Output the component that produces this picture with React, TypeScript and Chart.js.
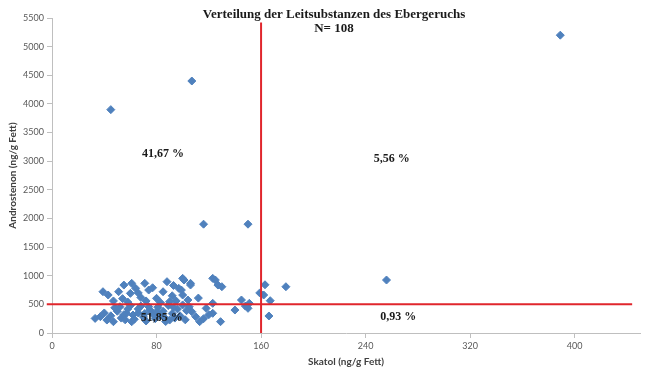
import React, { useEffect, useRef } from "react";
import { Chart, registerables } from "chart.js";

Chart.register(...registerables);

// Skatol (ng/g Fett) per sample
const skatolValues = [
  45, 107, 116, 150, 389, 256, 163, 179, 162, 167, 166,
  39, 43, 51, 55, 61, 60, 54, 71, 74, 68, 80, 77, 88, 85, 92, 100, 106, 97, 100, 104,
  101, 106, 99, 112, 123, 127, 125, 130, 123, 145, 151, 159, 83, 64, 47, 58, 72, 90, 95, 93, 66,
  37, 33, 42, 47, 52, 57, 62, 61, 90, 113, 105, 107, 110, 123, 120, 129, 140, 150, 148,
  45, 50, 53, 58, 63, 66, 68, 70, 72, 75, 77, 79, 81, 83, 85, 87, 89, 92, 94, 96, 98, 100,
  102, 66, 74, 60, 55, 48, 40, 86, 93, 103, 116, 118, 56, 80, 71,
];

// Androstenon (ng/g Fett) per sample
const androstenonValues = [
  3900, 4400, 1900, 1900, 5200, 925, 842, 808, 663, 564, 297,
  721, 663, 721, 837, 867, 692, 600, 867, 750, 620, 605, 790, 896, 720, 650, 954, 867, 780, 663, 576,
  925, 838, 750, 610, 954, 837, 925, 808, 518, 576, 518, 700, 530, 780, 560, 540, 560, 547, 560, 830, 700,
  285, 255, 226, 197, 459, 343, 314, 197, 226, 198, 459, 372, 285, 344, 320, 198, 401, 431, 470,
  300, 380, 260, 420, 240, 350, 470, 280, 210, 400, 330, 250, 450, 300, 380, 200, 480, 340, 260, 420, 300, 490,
  230, 420, 460, 480, 320, 440, 350, 270, 450, 390, 250, 430, 230, 370, 340,
];

const skatolThreshold = 160;
const androstenonThreshold = 500;

const xTickValues = [0, 80, 160, 240, 320, 400];
const yTickValues = [0, 500, 1000, 1500, 2000, 2500, 3000, 3500, 4000, 4500, 5000, 5500];

const chartTitle = "Verteilung der Leitsubstanzen des Ebergeruchs";
const chartSubtitle = "N= 108";
const quadrantLabels = ["41,67 %", "5,56 %", "51,85 %", "0,93 %"];
const quadrantSkatol = [85, 260, 84, 265];
const quadrantAndrostenon = [3124, 3037, 262, 280];

const xAxisTitle = "Skatol (ng/g Fett)";
const yAxisTitle = "Androstenon (ng/g Fett)";

const textPlugin = {
  id: "textPlugin",
  afterDatasetsDraw(chart: any) {
    const { ctx, scales } = chart;
    ctx.save();
    ctx.fillStyle = "#1a1a1a";
    ctx.textAlign = "center";
    ctx.textBaseline = "middle";
    ctx.font = "bold 13px 'Liberation Serif', 'Times New Roman', serif";
    ctx.fillText(chartTitle, 334, 15);
    ctx.fillText(chartSubtitle, 334, 29);
    ctx.font = "bold 12px 'Liberation Serif', 'Times New Roman', serif";
    quadrantLabels.forEach((t, i) => {
      const px = scales.x.getPixelForValue(quadrantSkatol[i]);
      const py = scales.y.getPixelForValue(quadrantAndrostenon[i]);
      ctx.fillText(t, px, py);
    });
    ctx.restore();
  },
};

export default function App() {
  const canvasRef = useRef<HTMLCanvasElement | null>(null);

  useEffect(() => {
    if (!canvasRef.current) return;
    const points = skatolValues.map((x, i) => ({ x, y: androstenonValues[i] }));
    const tickFont = { family: "Lato, 'Open Sans', sans-serif", size: 9 };
    const titleFont = { family: "Lato, 'Open Sans', sans-serif", size: 10, weight: "bold" as const };
    const chart = new Chart(canvasRef.current, {
      type: "scatter",
      data: {
        datasets: [
          {
            type: "line",
            label: "Skatol-Grenzwert",
            data: [
              { x: skatolThreshold, y: 0 },
              { x: skatolThreshold, y: 5420 },
            ],
            borderColor: "#e0262c",
            borderWidth: 2,
            pointRadius: 0,
            showLine: true,
            fill: false,
            order: 0,
            clip: false as any,
          } as any,
          {
            type: "line",
            label: "Androstenon-Grenzwert",
            data: [
              { x: -4, y: androstenonThreshold },
              { x: 444, y: androstenonThreshold },
            ],
            borderColor: "#e0262c",
            borderWidth: 2,
            pointRadius: 0,
            showLine: true,
            fill: false,
            order: 0,
            clip: false as any,
          } as any,
          {
            label: "Proben",
            data: points,
            pointStyle: "rectRot",
            pointRadius: 4,
            pointBorderWidth: 1,
            backgroundColor: "#4f81bd",
            borderColor: "#4f81bd",
            order: 1,
          },
        ],
      },
      options: {
        responsive: false,
        animation: false,
        devicePixelRatio: 1,
        layout: { padding: { top: 18, right: 6, left: 0, bottom: 0 } },
        plugins: {
          legend: { display: false },
          tooltip: { enabled: false },
          title: { display: false },
        },
        scales: {
          x: {
            type: "linear",
            min: 0,
            max: 450,
            afterFit: (s: any) => {
              s.height = 50;
            },
            afterBuildTicks: (s: any) => {
              s.ticks = xTickValues.map((v) => ({ value: v }));
            },
            ticks: {
              stepSize: 80,
              includeBounds: false,
              color: "#595959",
              font: tickFont,
              padding: 3,
              maxRotation: 0,
              callback: (v: any) => String(v),
            },
            grid: {
              display: true,
              drawOnChartArea: false,
              drawTicks: true,
              tickLength: 5,
              color: "#bfbfbf",
            },
            border: { display: true, color: "#bfbfbf" },
            title: {
              display: true,
              text: xAxisTitle,
              color: "#404040",
              font: titleFont,
              padding: { top: 4, bottom: 15 },
            },
          },
          y: {
            type: "linear",
            min: 0,
            max: 5500,
            afterFit: (s: any) => {
              s.width = 52;
            },
            afterBuildTicks: (s: any) => {
              s.ticks = yTickValues.map((v) => ({ value: v }));
            },
            ticks: {
              stepSize: 500,
              color: "#595959",
              font: tickFont,
              padding: 3,
              callback: (v: any) => String(v),
            },
            grid: {
              display: true,
              drawOnChartArea: false,
              drawTicks: true,
              tickLength: 5,
              color: "#bfbfbf",
            },
            border: { display: true, color: "#bfbfbf" },
            title: {
              display: true,
              text: yAxisTitle,
              color: "#404040",
              font: titleFont,
              padding: { top: 7, bottom: 4 },
            },
          },
        },
      },
      plugins: [textPlugin],
    });
    return () => chart.destroy();
  }, []);

  return (
    <div
      style={{
        position: "fixed",
        left: 0,
        top: 0,
        width: 646,
        height: 383,
        background: "#ffffff",
      }}
    >
      <canvas ref={canvasRef} width={646} height={383} />
    </div>
  );
}
